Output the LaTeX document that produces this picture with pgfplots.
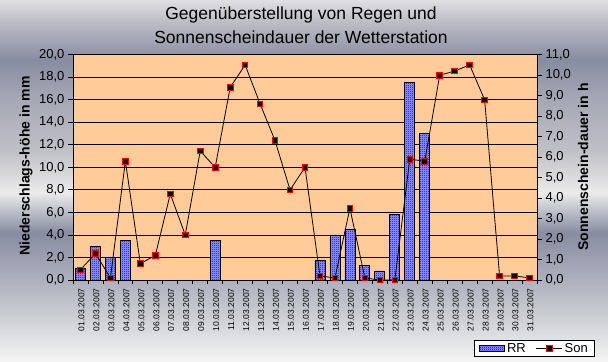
\documentclass[border=0pt]{standalone}
\usepackage{pgfplots}
\pgfplotsset{compat=1.18}
\usepackage{fontspec}
\setmainfont{Liberation Sans}
\usetikzlibrary{patterns}
\pgfdeclarepatternformonly{checker}{\pgfpoint{0bp}{0bp}}{\pgfpoint{2bp}{2bp}}{\pgfpoint{2bp}{2bp}}{%
 \pgfpathrectangle{\pgfpoint{0bp}{0bp}}{\pgfpoint{1bp}{1bp}}%
 \pgfpathrectangle{\pgfpoint{1bp}{1bp}}{\pgfpoint{1bp}{1bp}}%
 \pgfusepath{fill}}
\definecolor{plotbg}{RGB}{255,204,153}
\definecolor{barbase}{RGB}{150,150,255}
\pgfdeclareverticalshading{bgshade}{608bp}{rgb(0bp)=(0.96,0.96,0.96); rgb(45bp)=(0.80,0.81,0.83); rgb(79bp)=(0.69,0.70,0.75); rgb(129bp)=(0.53,0.55,0.63); rgb(169bp)=(0.92,0.92,0.92); rgb(212bp)=(0.75,0.75,0.78); rgb(262bp)=(0.65,0.66,0.71); rgb(302bp)=(0.53,0.55,0.63); rgb(342bp)=(0.75,0.75,0.78); rgb(362bp)=(0.88,0.88,0.89)}
\pgfplotsset{sonlegend/.style={legend image code/.code={\draw[mark repeat=2,mark phase=2,##1] plot coordinates {(0bp,0bp) (13bp,0bp) (26bp,0bp)};}}}
\begin{document}
\begin{tikzpicture}
\useasboundingbox (0,0) rectangle (608bp,362bp);
\node[inner sep=0pt, anchor=south west] at (0,0) {\pgfuseshading{bgshade}};
\begin{axis}[
  scale only axis, width=464bp, height=225.3bp, at={(73bp,82bp)}, anchor=south west,
  xmin=0.5, xmax=31.5, ymin=0, ymax=20,
  axis lines*=left,
  axis background/.style={fill=plotbg},
  ytick={0,2,...,20}, ymajorgrids, major grid style={black, line width=0.8bp},
  xtick={1,...,31},
  xticklabels={01.03.2007,02.03.2007,03.03.2007,04.03.2007,05.03.2007,06.03.2007,07.03.2007,08.03.2007,09.03.2007,10.03.2007,11.03.2007,12.03.2007,13.03.2007,14.03.2007,15.03.2007,16.03.2007,17.03.2007,18.03.2007,19.03.2007,20.03.2007,21.03.2007,22.03.2007,23.03.2007,24.03.2007,25.03.2007,26.03.2007,27.03.2007,28.03.2007,29.03.2007,30.03.2007,31.03.2007},
  minor xtick={0.5,1.5,...,31.5},
  tick align=outside, major tick length=5bp, minor tick length=4bp,
  tick style={black, line width=0.8bp},
  every major x tick/.append style={draw=none},
  axis line style={black, line width=0.8bp},
  xticklabel style={rotate=90, anchor=east, font=\fontsize{8.5bp}{9bp}\selectfont, yshift=-1bp},
  yticklabel style={font=\fontsize{13bp}{15bp}\selectfont, /pgf/number format/.cd, fixed, fixed zerofill, precision=1, use comma, assume math mode=true},
]
\addplot[ybar, bar width=10bp, draw=black, line width=0.8bp, fill=barbase, postaction={pattern=checker, pattern color=blue}] coordinates {
(1,1.0) (2,3.0) (3,2.0) (4,3.5) (10,3.5) (17,1.7) (18,4.0) (19,4.5) (20,1.3) (21,0.8) (22,5.8) (23,17.5) (24,13.0)};
\end{axis}
\begin{axis}[
  scale only axis, width=464bp, height=225.3bp, at={(73bp,82bp)}, anchor=south west,
  xmin=0.5, xmax=31.5, ymin=0, ymax=11,
  axis x line=none, axis y line*=right,
  ytick={0,1,...,11},
  tick align=outside, major tick length=5bp,
  tick style={black, line width=0.8bp},
  axis line style={black, line width=0.8bp},
  clip=false,
  yticklabel style={font=\fontsize{13bp}{15bp}\selectfont, /pgf/number format/.cd, fixed, fixed zerofill, precision=1, use comma, assume math mode=true},
  legend columns=2,
  legend style={at={(axis description cs:0.864,-0.342)}, anchor=south west, draw=black, fill=white, line width=0.8bp,
    font=\fontsize{13bp}{15bp}\selectfont, inner xsep=5bp, inner ysep=1bp,
    /tikz/every even column/.append style={column sep=8bp}},
]
\addlegendimage{legend image code/.code={\fill[barbase] (0bp,-3bp) rectangle (25bp,3bp); \fill[pattern=checker, pattern color=blue] (0bp,-3bp) rectangle (25bp,3bp); \draw[black, line width=0.6bp] (0bp,-3bp) rectangle (25bp,3bp);}}
\addlegendentry{RR}
\addplot[black, line width=0.8bp, mark=square*, mark size=2.8bp, mark options={draw=red, fill=black, line width=0.9bp}, sonlegend] coordinates {
(1,0.5) (2,1.3) (3,0.1) (4,5.8) (5,0.8) (6,1.2) (7,4.2) (8,2.2) (9,6.3) (10,5.5)
(11,9.4) (12,10.5) (13,8.6) (14,6.8) (15,4.4) (16,5.5) (17,0.2) (18,0.1) (19,3.5) (20,0.1)
(21,0.0) (22,0.0) (23,5.9) (24,5.8) (25,10.0) (26,10.2) (27,10.5) (28,8.8) (29,0.2) (30,0.2) (31,0.1)};
\addlegendentry{Son}
\end{axis}
\node[font=\fontsize{17.5bp}{20bp}\selectfont] at (301bp,347bp) {Gegenüberstellung von Regen und};
\node[font=\fontsize{17.5bp}{20bp}\selectfont] at (301bp,325bp) {Sonnenscheindauer der Wetterstation};
\node[rotate=90, font=\bfseries\fontsize{14bp}{16bp}\selectfont] at (26bp,196bp) {Niederschlags-höhe in mm};
\node[rotate=90, font=\bfseries\fontsize{14bp}{16bp}\selectfont] at (583bp,195bp) {Sonnenschein-dauer in h};
\end{tikzpicture}
\end{document}
